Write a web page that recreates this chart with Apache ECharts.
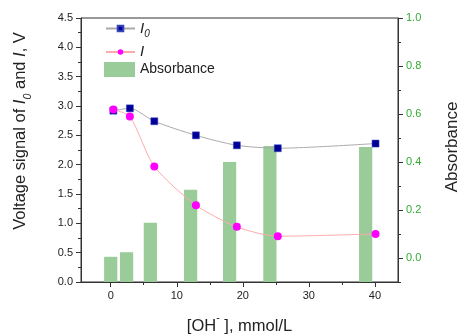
<!DOCTYPE html>
<html>
<head>
<meta charset="utf-8">
<script src="https://cdn.jsdelivr.net/npm/echarts@6/dist/echarts.min.js"></script>
<style>
  html, body { margin: 0; padding: 0; background: #fff; }
  #chart { width: 459px; height: 335px; }
</style>
</head>
<body>
<div id="chart"></div>
<script>
// concentration of OH- (mmol/L) for the voltage points
const xPts = [0.4, 2.9, 6.6, 12.9, 19.1, 25.3, 40.1];
const i0Vals = [2.92, 2.96, 2.74, 2.50, 2.33, 2.28, 2.36];
const iVals = [2.94, 2.82, 1.97, 1.31, 0.94, 0.78, 0.82];
// absorbance bars (drawn a little left of the points in the source)
const barX = [0, 2.4, 6.0, 12.1, 18.0, 24.1, 38.6];
const absVals = [0.005, 0.024, 0.147, 0.284, 0.40, 0.467, 0.463];

const xTicks = [0, 10, 20, 30, 40];
const xMinor = [5, 15, 25, 35];
const absTicks = [0, 0.2, 0.4, 0.6, 0.8, 1.0];
const absMinor = [-0.1, 0.1, 0.3, 0.5, 0.7, 0.9];

const FONT = "Arial, 'Liberation Sans', sans-serif";
const AXIS = "#333";
const BAR = "#99cc99";
const ABS_MIN = -0.1;

const chart = echarts.init(document.getElementById("chart"));

const zip = (xs, ys) => xs.map((x, i) => [x, ys[i]]);

// extra axis that only carries the short minor ticks
const tickAxis = (extra) => Object.assign({
  axisLine: { show: false, onZero: false },
  axisLabel: { show: false },
  splitLine: { show: false },
}, extra);

const nameRich = (size) => ({
  n: { fontSize: size, fontFamily: FONT, color: "#222", lineHeight: 20, verticalAlign: "middle" },
  it: { fontSize: size, fontFamily: FONT, color: "#222", fontStyle: "italic", lineHeight: 20, verticalAlign: "middle" },
  sub: { fontSize: size * 0.65, fontFamily: FONT, color: "#222", fontStyle: "italic", lineHeight: 27, verticalAlign: "bottom" },
  sup: { fontSize: size * 0.65, fontFamily: FONT, color: "#222", lineHeight: 26, verticalAlign: "top" },
});

chart.setOption({
  animation: false,
  textStyle: { fontFamily: FONT },
  grid: {
    left: 81, right: 61, top: 18, bottom: 53,
    outerBoundsMode: "none",
    show: true, borderColor: AXIS, borderWidth: 1, backgroundColor: "transparent",
  },
  legend: [
    {
      data: ["I0", "I"],
      orient: "vertical",
      left: 105, top: 21, padding: 0,
      itemWidth: 29, itemHeight: 7, itemGap: 5,
      formatter: (name) => name === "I0" ? "{it|I}{sub|0}" : "{it|I}",
      textStyle: {
        rich: {
          it: { fontSize: 15, fontFamily: FONT, fontStyle: "italic", color: "#222", lineHeight: 17 },
          sub: { fontSize: 10, fontFamily: FONT, fontStyle: "italic", color: "#222", lineHeight: 22, verticalAlign: "bottom" },
        },
      },
    },
    {
      data: [{ name: "Absorbance", icon: "rect" }],
      left: 104, top: 62, padding: 0,
      itemWidth: 31, itemHeight: 15,
      textStyle: { fontSize: 14, fontFamily: FONT, color: "#222" },
    },
  ],
  xAxis: [
    {
      type: "value", min: -4.5, max: 43.5, position: "bottom",
      axisLine: { show: true, onZero: false, lineStyle: { color: AXIS } },
      axisTick: { show: true, inside: false, length: 5, customValues: xTicks, lineStyle: { color: AXIS } },
      axisLabel: { customValues: xTicks, fontSize: 11, color: "#222", margin: 8 },
      splitLine: { show: false },
      name: "{n|[OH}{sup|-}{n| ], mmol/L}",
      nameLocation: "middle", nameGap: 31,
      nameTextStyle: { rich: nameRich(16.5) },
    },
    tickAxis({
      type: "value", min: -4.5, max: 43.5, position: "bottom",
      axisTick: { show: true, length: 3, customValues: xMinor, lineStyle: { color: AXIS } },
    }),
  ],
  yAxis: [
    {
      type: "value", min: 0, max: 4.5, interval: 0.5, position: "left",
      axisLine: { show: true, onZero: false, lineStyle: { color: AXIS } },
      axisTick: { show: true, length: 5, lineStyle: { color: AXIS } },
      minorTick: { show: true, splitNumber: 2, length: 3, lineStyle: { color: AXIS } },
      axisLabel: { fontSize: 11, color: "#222", margin: 8, formatter: (v) => v.toFixed(1) },
      splitLine: { show: false },
      name: "{n|Voltage signal of }{it|I}{sub|0}{n| and }{it|I}{n|, V}",
      nameLocation: "middle", nameRotate: 90, nameGap: 47,
      nameTextStyle: { rich: nameRich(16.5), padding: [0, 0, 0, 38] },
    },
    {
      type: "value", min: ABS_MIN, max: 1.0, position: "right",
      axisLine: { show: true, onZero: false, lineStyle: { color: AXIS } },
      axisTick: { show: true, length: 5, customValues: absTicks, lineStyle: { color: AXIS } },
      axisLabel: { customValues: absTicks, fontSize: 11, color: "#33aa33", margin: 8, formatter: (v) => v.toFixed(1) },
      splitLine: { show: false },
      name: "Absorbance",
      nameLocation: "middle", nameRotate: 90, nameGap: 46,
      nameTextStyle: { fontSize: 17, fontFamily: FONT, color: "#222", padding: [0, 0, 0, 6] },
    },
    tickAxis({
      type: "value", min: ABS_MIN, max: 1.0, position: "right",
      axisTick: { show: true, length: 3, customValues: absMinor, lineStyle: { color: AXIS } },
    }),
  ],
  series: [
    {
      name: "Absorbance",
      type: "custom",
      xAxisIndex: 0, yAxisIndex: 1,
      z: 1,
      itemStyle: { color: BAR },
      encode: { x: 0, y: 1 },
      data: zip(barX, absVals),
      renderItem: (params, api) => {
        const x = api.value(0);
        const top = api.coord([x, api.value(1)]);
        const base = api.coord([x, ABS_MIN]);
        const w = api.size([2, 0])[0];
        return {
          type: "rect",
          shape: { x: top[0] - w / 2, y: top[1], width: w, height: base[1] - top[1] },
          style: { fill: BAR },
        };
      },
    },
    {
      name: "I0",
      type: "line",
      xAxisIndex: 0, yAxisIndex: 0,
      z: 3,
      smooth: 0.25,
      symbol: "rect", symbolSize: 7,
      itemStyle: { color: "#000099", borderColor: "#3344bb", borderWidth: 0.5 },
      lineStyle: { color: "#aaaaaa", width: 1 },
      data: zip(xPts, i0Vals),
    },
    {
      name: "I",
      type: "line",
      xAxisIndex: 0, yAxisIndex: 0,
      z: 4,
      smooth: 0.25,
      symbol: "circle", symbolSize: 8,
      itemStyle: { color: "#ff00ff" },
      lineStyle: { color: "#ffaaaa", width: 1 },
      data: zip(xPts, iVals),
    },
  ],
});
</script>
</body>
</html>
